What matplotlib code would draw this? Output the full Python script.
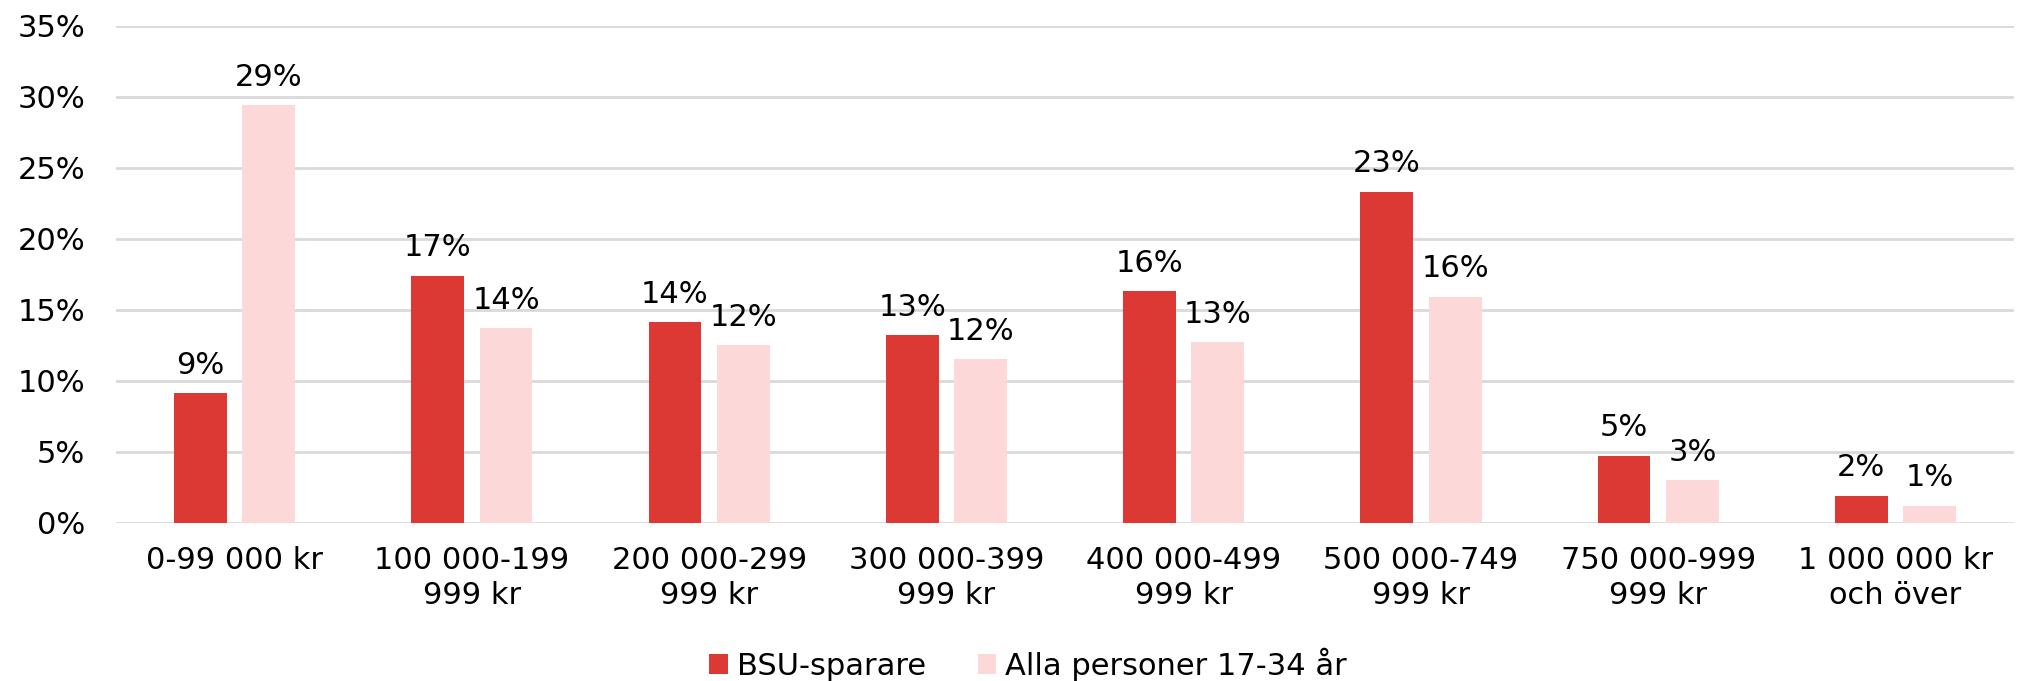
import matplotlib
matplotlib.use("Agg")
import matplotlib.pyplot as plt
import numpy as np

# Income brackets and shares (%)
categories = [
    "0-99 000 kr",
    "100 000-199\n999 kr",
    "200 000-299\n999 kr",
    "300 000-399\n999 kr",
    "400 000-499\n999 kr",
    "500 000-749\n999 kr",
    "750 000-999\n999 kr",
    "1 000 000 kr\noch över",
]
bsu_sparare = [9.1, 17.4, 14.1, 13.2, 16.3, 23.3, 4.7, 1.9]
alla_personer = [29.4, 13.7, 12.5, 11.5, 12.7, 15.9, 3.0, 1.2]
series_names = ["BSU-sparare", "Alla personer 17-34 år"]
y_ticks = [0, 5, 10, 15, 20, 25, 30, 35]

RED = "#DD3934"
PINK = "#FDD8D8"
GRID = "#D9D9D9"
FS = 22

plt.rcParams["font.family"] = ["DejaVu Sans"]

fig = plt.figure(figsize=(20.24, 6.81), dpi=100)
ax = fig.add_axes([0.0573, 0.2327, 0.9378, 0.7293])

x = np.arange(len(categories))
w = 0.223
off = 0.144
b1 = ax.bar(x - off, bsu_sparare, w, color=RED, label=series_names[0], zorder=3)
b2 = ax.bar(x + off, alla_personer, w, color=PINK, label=series_names[1], zorder=3)

for bars, vals in ((b1, bsu_sparare), (b2, alla_personer)):
    for rect, v in zip(bars, vals):
        ax.annotate(f"{round(v):.0f}%",
                    (rect.get_x() + rect.get_width() / 2, v),
                    xytext=(0, 14), textcoords="offset points",
                    ha="center", va="baseline", fontsize=FS, color="#000000")

ax.set_xlim(-0.5, len(categories) - 0.5)
ax.set_ylim(0, 35)
ax.set_yticks(y_ticks)
ax.set_yticklabels([f"{t}%" for t in y_ticks])
ax.set_xticks(x)
ax.set_xticklabels(categories, linespacing=1.25)
ax.tick_params(axis="both", length=0, labelsize=FS, colors="#000000")
ax.tick_params(axis="y", pad=22)
ax.tick_params(axis="x", pad=17)

ax.grid(axis="y", color=GRID, linewidth=2, zorder=0)
for s in ax.spines.values():
    s.set_visible(False)

fig.legend(loc="center", bbox_to_anchor=(0.508, 0.025), ncol=2, frameon=False,
           fontsize=FS, handlelength=0.6, handleheight=0.6,
           handletextpad=0.3, columnspacing=1.7, borderpad=0)

fig.savefig("out.png", dpi=100, facecolor="white")
